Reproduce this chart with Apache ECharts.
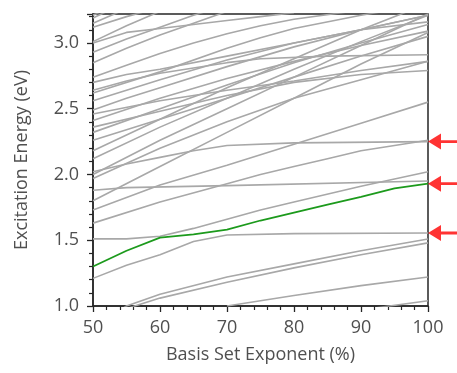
<!DOCTYPE html>
<html>
<head>
<meta charset="utf-8">
<script src="https://cdn.jsdelivr.net/npm/echarts@6/dist/echarts.min.js"></script>
<style>
  html, body { margin: 0; padding: 0; background: #fff; }
  #chart { width: 457px; height: 373px; }
</style>
</head>
<body>
<div id="chart"></div>
<script>
// basis set exponent (%) vs excitation energy (eV)
const greenState = [[50, 1.30], [55, 1.42], [60, 1.52], [65, 1.545], [70, 1.58], [75, 1.65], [80, 1.71], [85, 1.77], [90, 1.83], [95, 1.895], [100, 1.93]]

const grayStates = [
  [[90, 0.97], [100, 1.04]],
  [[70, 1.0], [80, 1.08], [90, 1.155], [100, 1.22]],
  [[50, 0.84], [55, 1.0], [60, 1.09], [70, 1.22], [80, 1.32], [90, 1.42], [100, 1.51]],
  [[50, 0.8], [55, 0.98], [60, 1.06], [70, 1.18], [80, 1.29], [90, 1.39], [100, 1.48]],
  [[50, 1.21], [55, 1.31], [60, 1.39], [65, 1.49], [70, 1.54], [80, 1.55], [100, 1.555]],
  [[50, 1.51], [55, 1.51], [60, 1.53], [65, 1.59], [70, 1.66], [75, 1.73], [80, 1.79], [90, 1.91], [100, 2.02]],
  [[50, 1.63], [60, 1.79], [70, 1.93], [75, 2.0], [80, 2.06], [85, 2.12], [90, 2.18], [100, 2.26]],
  [[50, 1.88], [55, 1.90], [70, 1.915], [100, 1.95]],
  [[50, 1.73], [60, 1.92], [70, 2.07], [80, 2.23], [90, 2.39], [100, 2.55]],
  [[50, 2.02], [55, 2.08], [60, 2.13], [65, 2.18], [70, 2.22], [80, 2.24], [100, 2.25]],
  [[50, 3.21], [55, 3.33]],
  [[50, 3.19], [55, 3.31]],
  [[50, 3.15], [55, 3.26]],
  [[50, 3.12], [55, 3.2], [60, 3.27]],
  [[50, 3.01], [55, 3.13], [60, 3.24]],
  [[50, 3.00], [55, 3.08], [60, 3.11], [65, 3.14], [70, 3.17], [75, 3.20], [80, 3.23]],
  [[50, 2.93], [55, 3.03], [60, 3.12], [65, 3.21], [70, 3.29]],
  [[50, 2.85], [55, 2.96], [60, 3.06], [65, 3.15], [70, 3.24]],
  [[50, 2.74], [55, 2.83], [60, 2.92], [65, 3.0], [70, 3.07], [75, 3.13], [80, 3.18], [90, 3.25]],
  [[50, 2.70], [55, 2.76], [60, 2.80], [70, 2.9], [80, 3.0], [90, 3.1], [100, 3.21]],
  [[50, 2.64], [55, 2.71], [60, 2.77], [65, 2.81], [70, 2.85], [75, 2.88], [85, 2.9], [100, 2.91]],
  [[50, 2.62], [60, 2.78], [70, 2.96], [75, 3.04], [80, 3.11], [90, 3.21], [100, 3.3]],
  [[50, 2.56], [60, 2.72], [70, 2.87], [80, 3.0], [90, 3.1], [100, 3.16]],
  [[50, 2.49], [55, 2.58], [60, 2.66], [70, 2.82], [80, 2.97], [90, 3.1], [100, 3.21]],
  [[50, 2.46], [60, 2.56], [70, 2.64], [80, 2.71], [90, 2.79], [100, 2.86]],
  [[50, 2.41], [60, 2.58], [70, 2.73], [80, 2.86], [90, 2.98], [100, 3.09]],
  [[50, 2.36], [60, 2.48], [70, 2.60], [80, 2.7], [90, 2.76], [100, 2.79]],
  [[50, 2.32], [60, 2.50], [70, 2.68], [80, 2.85], [90, 3.0], [100, 3.14]],
  [[50, 2.26], [60, 2.42], [70, 2.58], [80, 2.74], [90, 2.9], [100, 3.05]],
  [[50, 2.18], [60, 2.42], [70, 2.66], [80, 2.88], [90, 3.1], [100, 3.3]],
  [[50, 2.12], [60, 2.36], [70, 2.58], [80, 2.8], [90, 3.01], [100, 3.21]],
  [[50, 2.00], [60, 2.26], [70, 2.5], [80, 2.74], [90, 2.98], [100, 3.22]],
  [[50, 1.97], [60, 2.2], [70, 2.4], [80, 2.58], [90, 2.72], [100, 2.86]],
  [[50, 1.80], [60, 2.06], [70, 2.32], [80, 2.58], [90, 2.84], [100, 3.08]]
]

// states marked with red arrows on the right edge
const arrowLevels = [2.25, 1.93, 1.555]

const xMin = 50, xMax = 100, xStep = 10
const yMin = 1.0, yMax = 3.22, yStep = 0.5

const chart = echarts.init(document.getElementById('chart'))

const textColor = '#505050'
const axisColor = '#262626'
const font = 'Open Sans'
// left-pointing arrow: head + tail, tip at the left end
const arrowPath = 'path://M0,8 L13,0 L13,6.6 L34,6.6 L34,9.4 L13,9.4 L13,16 Z'

const series = []
grayStates.forEach((pts) => {
  series.push({
    type: 'line',
    data: pts,
    symbol: 'none',
    silent: true,
    z: 2,
    lineStyle: { color: '#a8a8a8', width: 1.6 }
  })
})
series.push({
  type: 'line',
  data: greenState,
  symbol: 'none',
  silent: true,
  z: 3,
  lineStyle: { color: '#1c9a1c', width: 1.8 }
})
series.push({
  type: 'scatter',
  data: arrowLevels.map((lvl) => [xMax, lvl]),
  symbol: arrowPath,
  symbolKeepAspect: false,
  symbolSize: [34, 16],
  symbolOffset: [17, 0],
  clip: false,
  silent: true,
  z: 6,
  itemStyle: { color: '#ff0000' }
})

chart.setOption({
  animation: false,
  grid: {
    left: 93, right: 29, top: 14, bottom: 67,
    show: true, borderColor: axisColor, borderWidth: 1.5, backgroundColor: 'transparent'
  },
  xAxis: {
    type: 'value',
    min: xMin, max: xMax, interval: xStep,
    name: 'Basis Set Exponent (%)',
    nameLocation: 'middle',
    nameGap: 40,
    nameTextStyle: { fontFamily: font, fontSize: 18, color: textColor },
    axisLine: { show: true, onZero: false, lineStyle: { color: axisColor, width: 1.5 } },
    axisTick: { show: true, length: 6, lineStyle: { color: axisColor, width: 1.3 } },
    minorTick: { show: true, splitNumber: 5, length: 4, lineStyle: { color: axisColor, width: 1.2 } },
    splitLine: { show: false },
    axisLabel: { fontFamily: font, fontSize: 18, color: textColor, margin: 13 }
  },
  yAxis: {
    type: 'value',
    min: yMin, max: yMax, interval: yStep,
    name: 'Excitation Energy (eV)',
    nameLocation: 'middle',
    nameGap: 62,
    nameTextStyle: { fontFamily: font, fontSize: 18, color: textColor },
    axisLine: { show: true, onZero: false, lineStyle: { color: axisColor, width: 1.5 } },
    axisTick: { show: true, length: 6, lineStyle: { color: axisColor, width: 1.3 } },
    minorTick: { show: true, splitNumber: 5, length: 4, lineStyle: { color: axisColor, width: 1.2 } },
    splitLine: { show: false },
    axisLabel: {
      fontFamily: font, fontSize: 18, color: textColor, margin: 14,
      showMaxLabel: false,
      formatter: (v) => v.toFixed(1)
    }
  },
  series: series
})
</script>
</body>
</html>
